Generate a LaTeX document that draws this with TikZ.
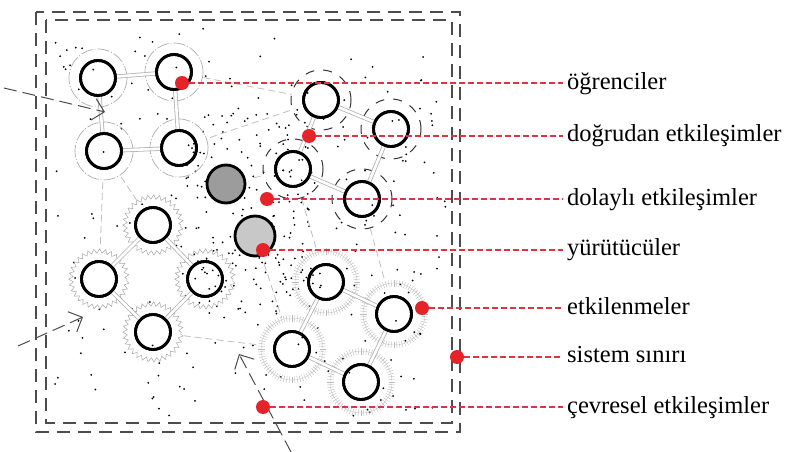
\documentclass[tikz,border=0pt]{standalone}
\usepackage{fontspec}
\setmainfont{Liberation Serif}
\usetikzlibrary{arrows.meta,decorations.pathmorphing,calc}

\definecolor{rdot}{HTML}{E52429}
\definecolor{rline}{HTML}{DC3540}
\definecolor{exdark}{HTML}{9C9C9C}
\definecolor{exlight}{HTML}{C8C8C8}

\tikzset{
  student/.style={circle, draw=black, line width=2.8pt, minimum size=35pt, inner sep=0pt},
  executor/.style={circle, draw=black, line width=2.8pt, minimum size=38pt, inner sep=0pt},
  direct/.style={draw=gray!60, double=white, double distance=2.6pt, line width=0.8pt},
  indirect/.style={draw=gray!50, line width=0.8pt, dash pattern=on 7pt off 4pt},
  ringA/.style={draw=gray!65, line width=0.7pt, dash pattern=on 12pt off 2pt on 1pt off 2pt},
  ringB/.style={draw=gray!40!black, line width=1pt, dash pattern=on 9pt off 9pt},
  ringC/.style={draw=gray!70, line width=0.5pt, decorate,
                decoration={zigzag, segment length=5.6pt, amplitude=2.2pt}},
  ringD/.style={draw=gray!40, line width=0.4pt},
  tickD/.style={draw=gray!55, line width=0.4pt},
  boundary/.style={draw=black!70, line width=1.5pt, dash pattern=on 13pt off 8pt},
  envarrow/.style={draw=black!70, line width=1pt, dash pattern=on 13pt off 6pt,
                   -{Straight Barb[length=11pt, width=22pt, line width=1pt]}},
  reddot/.style={circle, fill=rdot, minimum size=14pt, inner sep=0pt},
  redline/.style={draw=rline, line width=1.1pt, dash pattern=on 6pt off 3pt, shorten >=4pt},
  lbl/.style={anchor=base west, inner sep=0pt, font=\fontsize{24.5}{28}\selectfont},
  speck/.style={fill=black}
}

\begin{document}
\begin{tikzpicture}[x=1pt, y=-1pt]
\useasboundingbox (0,0) rectangle (788,452);

% scattered environment specks
\pgfmathsetseed{4711}
\foreach \i in {1,...,230}{
  \pgfmathsetmacro{\px}{54+392*rnd}
  \pgfmathsetmacro{\py}{28+388*rnd}
  \fill[speck] (\px,\py) circle[radius=1pt];
}
\foreach \i in {1,...,170}{
  \pgfmathsetmacro{\px}{185+130*rnd}
  \pgfmathsetmacro{\py}{115+200*rnd}
  \fill[speck] (\px,\py) circle[radius=1pt];
}

% system boundary (double dashed frame)
\draw[boundary] (36,12) rectangle (460,432);
\draw[boundary] (46,20) rectangle (452,423);

% students
\node[student] (a1) at (98,78) {};
\node[student] (a2) at (174,72) {};
\node[student] (a3) at (104,151) {};
\node[student] (a4) at (179,148) {};

\node[student] (b1) at (321,100) {};
\node[student] (b2) at (391,129) {};
\node[student] (b3) at (293,169) {};
\node[student] (b4) at (362,199) {};

\node[student] (c1) at (153,225) {};
\node[student] (c2) at (99,279) {};
\node[student] (c3) at (205,279) {};
\node[student] (c4) at (153,332) {};

\node[student] (d1) at (326,282) {};
\node[student] (d2) at (394,314) {};
\node[student] (d3) at (292,349) {};
\node[student] (d4) at (361,382) {};

% executors
\node[executor, fill=exdark] (e1) at (226,184) {};
\node[executor, fill=exlight, minimum size=40pt] (e2) at (255,236) {};

% indirect interactions
\draw[indirect, shorten <=11pt, shorten >=11pt] (a2) -- (b1);
\draw[indirect, shorten <=14pt, shorten >=11pt] (a4) -- (b1);
\draw[indirect, shorten <=12pt, shorten >=12pt] (a3) -- (c2);
\draw[indirect, shorten <=12pt, shorten >=12pt] (a3) -- (c1);
\draw[indirect, shorten <=12pt, shorten >=14pt] (c4) -- (d3);
\draw[indirect, shorten <=12pt, shorten >=14pt] (b4) -- (d2);
\draw[indirect, shorten <=8pt, shorten >=14pt] (e2) -- (d3);
\draw[indirect, shorten <=8pt, shorten >=12pt] (e1) -- (b3);
\draw[indirect, shorten <=12pt, shorten >=14pt] (b3) -- (d1);

% interaction rings
\foreach \n in {a1,a2,a3,a4}
  \draw[ringA] (\n.center) circle[radius=29pt];
\foreach \n in {b1,b2,b3,b4}
  \draw[ringB] (\n.center) circle[radius=30pt];
\foreach \n in {c1,c2,c3,c4}
  \draw[ringC] (\n.center) circle[radius=28pt];
\foreach \n in {d1,d2,d3,d4}{
  \draw[ringD] (\n.center) circle[radius=31pt];
  \foreach \a in {0,5,...,355}
    \draw[tickD] ($(\n.center)+(\a:27.5pt)$) -- ($(\n.center)+(\a:34pt)$);
}

% direct interactions
\draw[direct] (a1) -- (a2);
\draw[direct] (a2) -- (a4);
\draw[direct] (a4) -- (a3);
\draw[direct] (a3) -- (a1);
\draw[direct] (b1) -- (b2);
\draw[direct] (b2) -- (b4);
\draw[direct] (b4) -- (b3);
\draw[direct] (b3) -- (b1);
\draw[direct] (c1) -- (c2);
\draw[direct] (c1) -- (c3);
\draw[direct] (c2) -- (c4);
\draw[direct] (c3) -- (c4);
\draw[direct] (d1) -- (d2);
\draw[direct] (d2) -- (d4);
\draw[direct] (d4) -- (d3);
\draw[direct] (d3) -- (d1);

% redraw circle outlines above the connectors
\foreach \n in {a1,a2,a3,a4,b1,b2,b3,b4,c1,c2,c3,c4,d1,d2,d3,d4}
  \draw[black, line width=2.8pt] (\n.center) circle[radius=17.5pt];

% environmental interactions
\coordinate (env1s) at (4,88);
\coordinate (env1t) at (105,112);
\coordinate (env2s) at (18,346);
\coordinate (env2t) at (83,317);
\coordinate (env3s) at (291,452);
\coordinate (env3t) at (239,354);
\draw[envarrow] (env1s) -- (env1t);
\draw[envarrow] (env2s) -- (env2t);
\draw[envarrow] (env3s) -- (env3t);

% legend labels
\node[lbl] (l1) at (567,89)  {öğrenciler};
\node[lbl] (l2) at (567,142) {doğrudan etkileşimler};
\node[lbl] (l3) at (567,205) {dolaylı etkileşimler};
\node[lbl] (l4) at (567,255) {yürütücüler};
\node[lbl] (l5) at (567,314) {etkilenmeler};
\node[lbl] (l6) at (567,362) {sistem sınırı};
\node[lbl] (l7) at (567,413) {çevresel etkileşimler};

% pointers
\node[reddot] (r1) at (182,83) {};
\node[reddot] (r2) at (309,136) {};
\node[reddot] (r3) at (267,199) {};
\node[reddot] (r4) at (263,250) {};
\node[reddot] (r5) at (422,308) {};
\node[reddot] (r6) at (457,357) {};
\node[reddot] (r7) at (263,407) {};
\draw[redline] (r1) -- (r1 -| l1.west);
\draw[redline] (r2) -- (r2 -| l2.west);
\draw[redline] (r3) -- (r3 -| l3.west);
\draw[redline] (r4) -- (r4 -| l4.west);
\draw[redline] (r5) -- (r5 -| l5.west);
\draw[redline] (r6) -- (r6 -| l6.west);
\draw[redline] (r7) -- (r7 -| l7.west);
\end{tikzpicture}
\end{document}
